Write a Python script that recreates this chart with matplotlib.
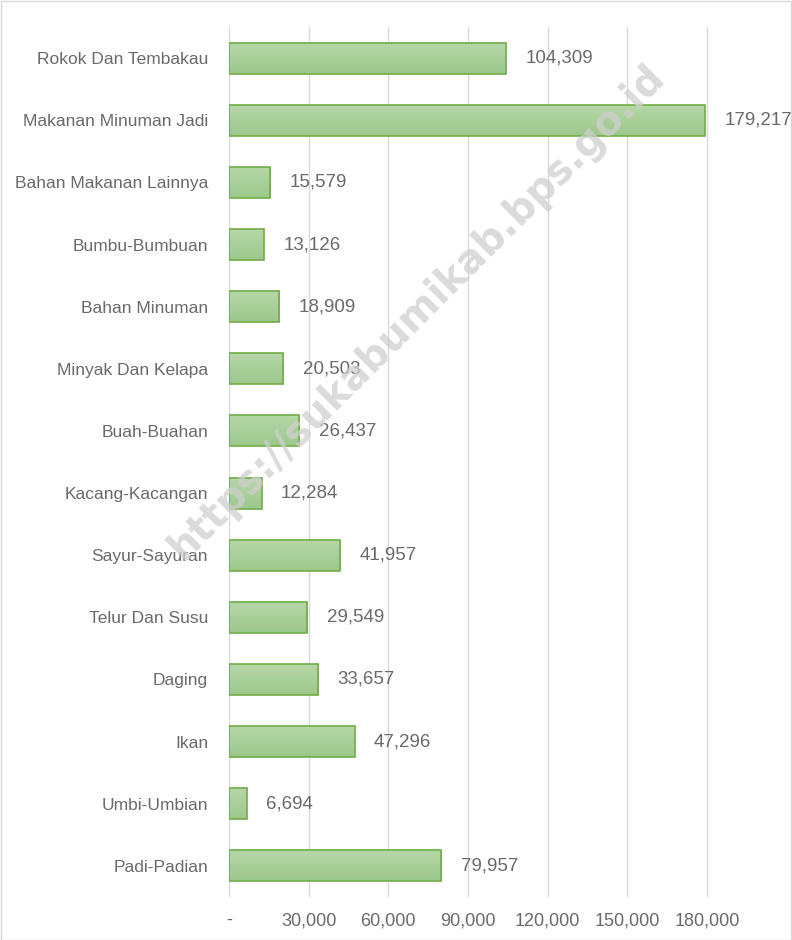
import numpy as np
import matplotlib
matplotlib.use("Agg")
import matplotlib.pyplot as plt
from matplotlib.patches import Rectangle
from matplotlib.ticker import FuncFormatter
from matplotlib.colors import LinearSegmentedColormap

categories = ["Rokok Dan Tembakau", "Makanan Minuman Jadi", "Bahan Makanan Lainnya",
              "Bumbu-Bumbuan", "Bahan Minuman", "Minyak Dan Kelapa", "Buah-Buahan",
              "Kacang-Kacangan", "Sayur-Sayuran", "Telur Dan Susu", "Daging", "Ikan",
              "Umbi-Umbian", "Padi-Padian"]
values = [104309, 179217, 15579, 13126, 18909, 20503, 26437,
          12284, 41957, 29549, 33657, 47296, 6694, 79957]
xticks = [0, 30000, 60000, 90000, 120000, 150000, 180000]

plt.rcParams['font.family'] = ['Liberation Sans', 'DejaVu Sans']
grey = '#6a6a6a'

W, H = 792, 940
fig = plt.figure(figsize=(W / 100, H / 100), dpi=100)
ax = fig.add_axes([229 / W, 43 / H, (760 - 229) / W, (897 - 27) / H])

y = np.arange(len(categories))
bars = ax.barh(y, values, height=0.5, color='none', edgecolor='#70ad47', linewidth=1.2, zorder=3)

# vertical gradient inside each bar
grad = np.linspace(0, 1, 50).reshape(-1, 1)
cmap = LinearSegmentedColormap.from_list('g', ['#b7d7a9', '#9cc88a'])
for b in bars:
    x0, y0, w, h = b.get_x(), b.get_y(), b.get_width(), b.get_height()
    im = ax.imshow(grad, cmap=cmap, aspect='auto', extent=(x0, x0 + w, y0 + h, y0),
                   origin='upper', zorder=2, interpolation='bilinear')
    im.set_clip_path(b)

ax.set_ylim(len(categories) - 0.5, -0.5)
ax.set_xlim(0, 200000)
ax.set_yticks(y)
ax.set_yticklabels(categories)
ax.set_xticks(xticks)
ax.xaxis.set_major_formatter(FuncFormatter(lambda v, p: '-' if v == 0 else f'{int(v):,}'))
ax.tick_params(axis='y', length=0, labelsize=12.5, colors=grey, pad=15)
ax.tick_params(axis='x', length=0, labelsize=13, colors=grey, pad=11)
ax.grid(axis='x', color='#d9d9d9', linewidth=1, zorder=0)
for s in ax.spines.values():
    s.set_visible(False)

for yi, v in zip(y, values):
    ax.annotate(f'{v:,}', (v, yi), xytext=(14, 0), textcoords='offset points',
                va='center', ha='left', fontsize=13.5, color=grey, clip_on=False)

fig.text(0.527, 0.668, 'https://sukabumikab.bps.go.id', rotation=45,
         ha='center', va='center', fontsize=28.5, fontweight='bold',
         color='#cfcfcf', alpha=0.75, family=['DejaVu Sans'])

fig.patches.append(Rectangle((0.5 / W, 0.5 / H), 1 - 1.5 / W, 1 - 1.5 / H,
                             transform=fig.transFigure, fill=False,
                             edgecolor='#d9d9d9', linewidth=1))

fig.savefig('out.png', dpi=100)
